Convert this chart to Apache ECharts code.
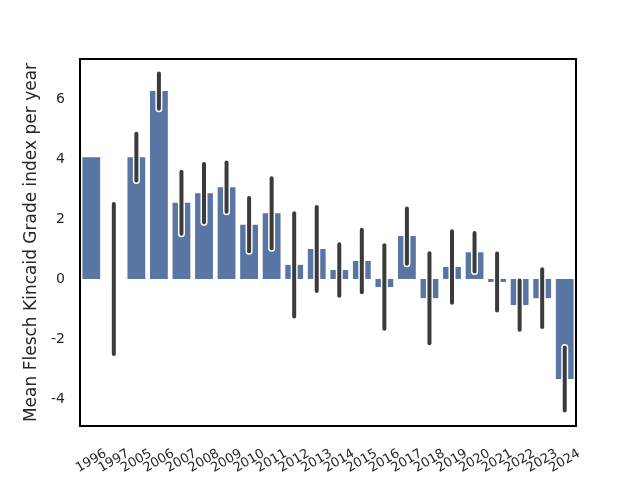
<!DOCTYPE html>
<html>
<head>
<meta charset="utf-8">
<script src="https://cdn.jsdelivr.net/npm/echarts@6/dist/echarts.min.js"></script>
<style>html,body{margin:0;padding:0;background:#fff}#c{width:640px;height:480px}</style>
</head>
<body>
<div id="c"></div>
<script>
const years = ['1996','1997','2005','2006','2007','2008','2009','2010','2011','2012','2013','2014','2015','2016','2017','2018','2019','2020','2021','2022','2023','2024'];
const means = [4.06, 0.0, 4.06, 6.26, 2.54, 2.86, 3.06, 1.81, 2.19, 0.47, 1.0, 0.3, 0.6, -0.27, 1.43, -0.64, 0.4, 0.89, -0.1, -0.87, -0.64, -3.33];
const errors = [null, 2.5, 0.78, 0.59, 1.03, 0.97, 0.82, 0.89, 1.17, 1.72, 1.4, 0.86, 1.04, 1.39, 0.92, 1.5, 1.19, 0.64, 0.95, 0.82, 0.96, 1.05];
const yTicks = [-4, -2, 0, 2, 4, 6];
const yTitle = 'Mean Flesch Kincaid Grade index per year';

const errData = [];
years.forEach((y, i) => {
  if (errors[i] != null) errData.push([i, means[i] - errors[i], means[i] + errors[i]]);
});

const chart = echarts.init(document.getElementById('c'), null, {renderer: 'canvas'});
chart.setOption({
  animation: false,
  backgroundColor: '#fff',
  textStyle: {fontFamily: 'DejaVu Sans'},
  grid: {left: 80, right: 64, top: 59, bottom: 54, show: true, borderColor: '#000', borderWidth: 2, backgroundColor: 'transparent'},
  xAxis: {
    type: 'category',
    data: years,
    axisLine: {show: false},
    axisTick: {show: false},
    axisLabel: {rotate: 30, align: 'center', verticalAlign: 'middle', margin: 35, fontSize: 13, color: '#262626', interval: 0, hideOverlap: false}
  },
  yAxis: {
    type: 'value',
    min: -4.9,
    max: 7.33,
    axisLine: {show: false},
    axisTick: {show: false},
    splitLine: {show: false},
    axisLabel: {customValues: yTicks, fontSize: 14, color: '#262626', margin: 15},
    name: yTitle,
    nameLocation: 'middle',
    nameGap: 34,
    nameTextStyle: {fontSize: 17, color: '#262626'}
  },
  series: [
    {
      type: 'bar',
      data: means,
      barCategoryGap: '21%',
      itemStyle: {color: '#5975a4'}
    },
    {
      type: 'custom',
      data: errData,
      z: 10,
      renderItem: function (params, api) {
        const lo = api.coord([api.value(0), api.value(1)]);
        const hi = api.coord([api.value(0), api.value(2)]);
        const shape = {x1: lo[0], y1: lo[1], x2: hi[0], y2: hi[1]};
        return {
          type: 'group',
          children: [
            {type: 'line', shape: shape, style: {stroke: '#fff', lineWidth: 7, lineCap: 'round'}},
            {type: 'line', shape: shape, style: {stroke: '#3b3b3b', lineWidth: 4, lineCap: 'round'}}
          ]
        };
      }
    }
  ]
});
</script>
</body>
</html>
